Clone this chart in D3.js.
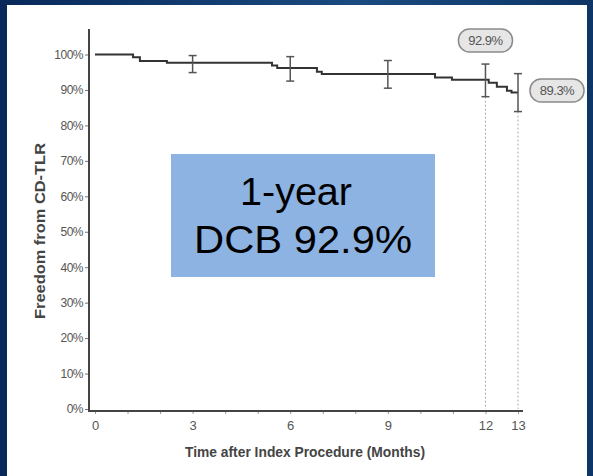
<!DOCTYPE html>
<html>
<head>
<meta charset="utf-8">
<script src="https://cdn.jsdelivr.net/npm/d3@7"></script>
<style>
  html, body { margin: 0; padding: 0; background: #0b3164; }
  svg { display: block; }
</style>
</head>
<body>
<svg id="chart" width="593" height="476"></svg>
<script>
  // Kaplan-Meier steps (month, freedom %)
  var stepMonths = [0, 1.17, 1.38, 2.21, 5.44, 5.6, 6.82, 6.97, 10.45, 10.97, 12.1, 12.35, 12.66, 12.8, 13];
  var stepValues = [100, 99.2, 98.2, 97.7, 96.9, 96.2, 95.1, 94.5, 93.5, 92.9, 92.0, 90.9, 89.8, 89.3, 89.3];

  // error bars at the follow-up visits
  var barMonths = [3, 6, 9, 12, 13];
  var barLower = [94.9, 92.5, 90.5, 88.1, 83.9];
  var barUpper = [99.7, 99.4, 98.3, 97.3, 94.6];

  // callouts
  var calloutMonths = [12, 13];
  var calloutLabels = ['92.9%', '89.3%'];

  var xTicks = d3.range(0, 14);
  var xLabelTicks = [0, 3, 6, 9, 12, 13];
  var yTicks = d3.range(0, 101, 10);

  var boxLines = ['1-year', 'DCB 92.9%'];

  var svg = d3.select('#chart');

  // dark blue slide background, a bit lighter in the middle
  var defs = svg.append('defs');
  var grad = defs.append('linearGradient')
    .attr('id', 'bg')
    .attr('x1', 0).attr('y1', 0).attr('x2', 1).attr('y2', 0);
  grad.append('stop').attr('offset', '0%').attr('stop-color', '#08295a');
  grad.append('stop').attr('offset', '60%').attr('stop-color', '#1a4a80');
  grad.append('stop').attr('offset', '100%').attr('stop-color', '#0d3566');

  svg.append('rect')
    .attr('width', 593).attr('height', 476)
    .attr('fill', 'url(#bg)');

  // white panel
  svg.append('rect')
    .attr('x', 7).attr('y', 5)
    .attr('width', 580).attr('height', 471)
    .attr('fill', '#ffffff');

  var x = d3.scaleLinear().domain([0, 13]).range([95, 518]);
  var y = d3.scaleLinear().domain([0, 100]).range([409, 54.5]);

  var axisColor = '#444';
  var font = 'Liberation Sans, Arial, sans-serif';

  // dotted drop lines at 12 and 13 months
  svg.selectAll('.drop')
    .data(calloutMonths)
    .enter()
    .append('line')
    .attr('class', 'drop')
    .attr('x1', function (d) { return x(d); })
    .attr('x2', function (d) { return x(d); })
    .attr('y1', function (d) { return y(barLower[barMonths.indexOf(d)]); })
    .attr('y2', y(0))
    .attr('stroke', '#aaa')
    .attr('stroke-width', 1)
    .attr('stroke-dasharray', '2,2');

  // y axis
  var yAxis = svg.append('g')
    .attr('transform', 'translate(89,0)')
    .call(d3.axisLeft(y)
      .tickValues(yTicks)
      .tickSize(4)
      .tickFormat(function (d) { return d + '%'; }));
  yAxis.select('.domain').remove();
  yAxis.append('line')
    .attr('x1', 0).attr('x2', 0)
    .attr('y1', 29).attr('y2', 412)
    .attr('stroke', axisColor)
    .attr('stroke-width', 2);
  yAxis.selectAll('.tick line').attr('stroke', '#777');
  yAxis.selectAll('.tick text')
    .attr('fill', '#555')
    .attr('x', -6)
    .style('font-family', font)
    .style('font-size', '12px')
    .style('letter-spacing', '-0.5px');

  // x axis
  var xAxis = svg.append('g')
    .attr('transform', 'translate(0,411)')
    .call(d3.axisBottom(x)
      .tickValues(xTicks)
      .tickSize(3)
      .tickFormat(function (d) { return xLabelTicks.indexOf(d) >= 0 ? d : ''; }));
  xAxis.select('.domain').remove();
  xAxis.append('line')
    .attr('x1', 88).attr('x2', 523)
    .attr('y1', 0).attr('y2', 0)
    .attr('stroke', axisColor)
    .attr('stroke-width', 2);
  xAxis.selectAll('.tick line').attr('stroke', '#999');
  xAxis.selectAll('.tick text')
    .attr('fill', '#555')
    .attr('y', 10)
    .style('font-family', font)
    .style('font-size', '13px');

  // axis titles, condensed bold
  svg.append('text')
    .attr('x', 305).attr('y', 457)
    .attr('text-anchor', 'middle')
    .attr('fill', '#444')
    .attr('textLength', 240)
    .attr('lengthAdjust', 'spacingAndGlyphs')
    .style('font-family', font)
    .style('font-size', '14px')
    .style('font-weight', 'bold')
    .text('Time after Index Procedure (Months)');

  svg.append('text')
    .attr('transform', 'translate(45,231) rotate(-90)')
    .attr('text-anchor', 'middle')
    .attr('fill', '#444')
    .attr('textLength', 176)
    .attr('lengthAdjust', 'spacingAndGlyphs')
    .style('font-family', font)
    .style('font-size', '14px')
    .style('font-weight', 'bold')
    .text('Freedom from CD-TLR');

  // survival curve
  var steps = stepMonths.map(function (m, i) { return [m, stepValues[i]]; });
  var line = d3.line()
    .x(function (d) { return x(d[0]); })
    .y(function (d) { return y(d[1]); })
    .curve(d3.curveStepAfter);

  svg.append('path')
    .datum(steps)
    .attr('d', line)
    .attr('fill', 'none')
    .attr('stroke', '#333')
    .attr('stroke-width', 2);

  // error bars
  var bars = svg.selectAll('.ebar')
    .data(barMonths)
    .enter()
    .append('g')
    .attr('class', 'ebar')
    .attr('stroke', '#555')
    .attr('stroke-width', 1.5);

  bars.append('line')
    .attr('x1', function (d) { return x(d); })
    .attr('x2', function (d) { return x(d); })
    .attr('y1', function (d, i) { return y(barUpper[i]); })
    .attr('y2', function (d, i) { return y(barLower[i]); });
  bars.append('line')
    .attr('x1', function (d) { return x(d) - 4; })
    .attr('x2', function (d) { return x(d) + 4; })
    .attr('y1', function (d, i) { return y(barUpper[i]); })
    .attr('y2', function (d, i) { return y(barUpper[i]); });
  bars.append('line')
    .attr('x1', function (d) { return x(d) - 4; })
    .attr('x2', function (d) { return x(d) + 4; })
    .attr('y1', function (d, i) { return y(barLower[i]); })
    .attr('y2', function (d, i) { return y(barLower[i]); });

  // callout pills: 12 months above the bar, 13 months to the right
  var pills = svg.selectAll('.pill')
    .data(calloutLabels)
    .enter()
    .append('g')
    .attr('class', 'pill')
    .attr('transform', function (d, i) {
      var m = calloutMonths[i];
      return i === 0
        ? 'translate(' + (x(m) - 27) + ',29)'
        : 'translate(' + (x(m) + 12) + ',79)';
    });

  pills.append('rect')
    .attr('width', 54).attr('height', 23)
    .attr('rx', 11).attr('ry', 11)
    .attr('fill', '#e6e6e6')
    .attr('stroke', '#8a8a8a')
    .attr('stroke-width', 1.5);

  pills.append('text')
    .attr('x', 27).attr('y', 16)
    .attr('text-anchor', 'middle')
    .attr('fill', '#555')
    .style('font-family', font)
    .style('font-size', '13px')
    .style('letter-spacing', '-0.5px')
    .text(function (d) { return d; });

  // highlight box
  svg.append('rect')
    .attr('x', 171).attr('y', 154)
    .attr('width', 264).attr('height', 123)
    .attr('fill', '#8db3e2');

  svg.selectAll('.boxline')
    .data(boxLines)
    .enter()
    .append('text')
    .attr('class', 'boxline')
    .attr('x', function (d, i) { return i === 0 ? 240 : 194; })
    .attr('y', function (d, i) { return i === 0 ? 205 : 253; })
    .attr('textLength', function (d, i) { return i === 0 ? 112 : 218; })
    .attr('lengthAdjust', 'spacingAndGlyphs')
    .attr('fill', '#000')
    .style('font-family', font)
    .style('font-size', '38px')
    .text(function (d) { return d; });
</script>
</body>
</html>
